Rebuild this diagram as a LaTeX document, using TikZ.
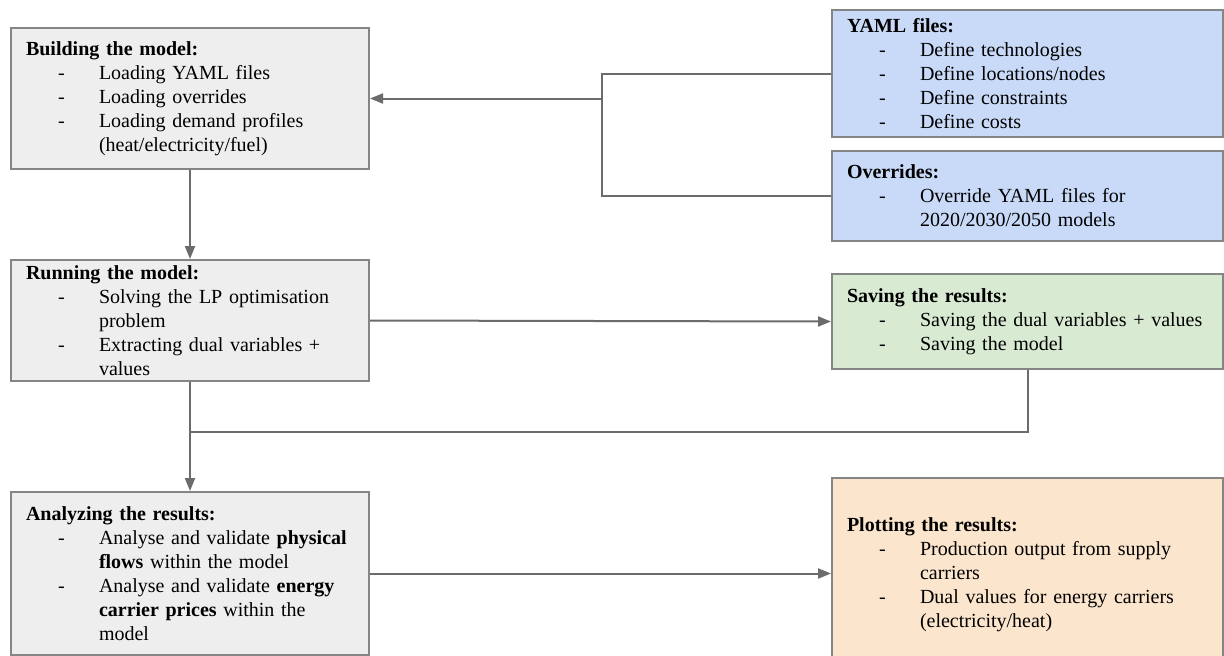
\documentclass[tikz,border=0pt]{standalone}
\usepackage{fontspec}
\setmainfont{Liberation Serif}
\usetikzlibrary{positioning,arrows.meta,calc}
\definecolor{gdgray}{HTML}{EEEEEE}
\definecolor{gdblue}{HTML}{C9DAF8}
\definecolor{gdgreen}{HTML}{D9EAD3}
\definecolor{gdorange}{HTML}{FCE5CD}
\definecolor{gdline}{HTML}{6B6B6B}
\definecolor{gdborder}{HTML}{858585}
\newcommand{\dashitem}{\hspace*{16pt}\makebox[20.5pt][l]{-}}
\newcommand{\wrapline}{\hspace*{36.5pt}}

\begin{document}
\begin{tikzpicture}[x=0.5pt, y=-0.5pt,
    stage/.style={rectangle, draw=gdborder, line width=1pt, fill=#1, anchor=north west, align=left, inner xsep=7.5pt, inner ysep=0pt, font=\fontsize{10pt}{12pt}\selectfont},
    stage/.default=gdgray,
    leftstage/.style={stage=gdgray, minimum width=179pt, text width=164pt},
    rightstage/.style={stage=#1, minimum width=195.5pt, text width=180.5pt},
    arrow/.style={-{Triangle[length=6.5pt,width=5pt]}, line width=1pt, draw=gdline},
    link/.style={line width=1pt, draw=gdline},
]
\useasboundingbox (0,0) rectangle (1224,655);

% Left column: model pipeline
\node[leftstage, minimum height=70.5pt] (build) at (10,27) {\textbf{Building the model:}\\
    \dashitem Loading YAML files\\
    \dashitem Loading overrides\\
    \dashitem Loading demand profiles\\
    \wrapline (heat/electricity/fuel)};
\node[leftstage, minimum height=60.5pt, below=44.5pt of build] (run) {\textbf{Running the model:}\\
    \dashitem Solving the LP optimisation\\
    \wrapline problem\\
    \dashitem Extracting dual variables +\\
    \wrapline values};
\node[leftstage, minimum height=81.5pt, below=54.5pt of run] (analyze) {\textbf{Analyzing the results:}\\
    \dashitem Analyse and validate \textbf{physical}\\
    \wrapline \textbf{flows} within the model\\
    \dashitem Analyse and validate \textbf{energy}\\
    \wrapline \textbf{carrier prices} within the\\
    \wrapline model};

% Right column: inputs and outputs
\node[rightstage=gdblue, minimum height=63.5pt] (yaml) at (831,9) {\textbf{YAML files:}\\
    \dashitem Define technologies\\
    \dashitem Define locations/nodes\\
    \dashitem Define constraints\\
    \dashitem Define costs};
\node[rightstage=gdblue, minimum height=45pt, below=6pt of yaml] (over) {\textbf{Overrides:}\\
    \dashitem Override YAML files for\\
    \wrapline 2020/2030/2050 models};
\node[rightstage=gdgreen, minimum height=47.5pt] (save) at (831,273) {\textbf{Saving the results:}\\
    \dashitem Saving the dual variables + values\\
    \dashitem Saving the model};
\node[rightstage=gdorange, minimum height=97pt] (plot) at (831,477) {\textbf{Plotting the results:}\\
    \dashitem Production output from supply\\
    \wrapline carriers\\
    \dashitem Dual values for energy carriers\\
    \wrapline (electricity/heat)};

% Inputs into the model
\coordinate (split) at ($(build.east)+(232,0)$);
\draw[link] (yaml.west) -| (split) |- (over.west);
\draw[arrow] (split) -- (build.east);

% Pipeline arrows
\draw[arrow] (build.south) -- (run.north);
\draw[arrow] (run.east) -- (save.west);
\draw[arrow] (run.south) -- (analyze.north);
\coordinate (merge) at ($(run.south)+(0,50)$);
\draw[link] (save.south) |- (merge);
\draw[arrow] (analyze.east) -- (plot.west |- analyze.east);

\end{tikzpicture}
\end{document}
